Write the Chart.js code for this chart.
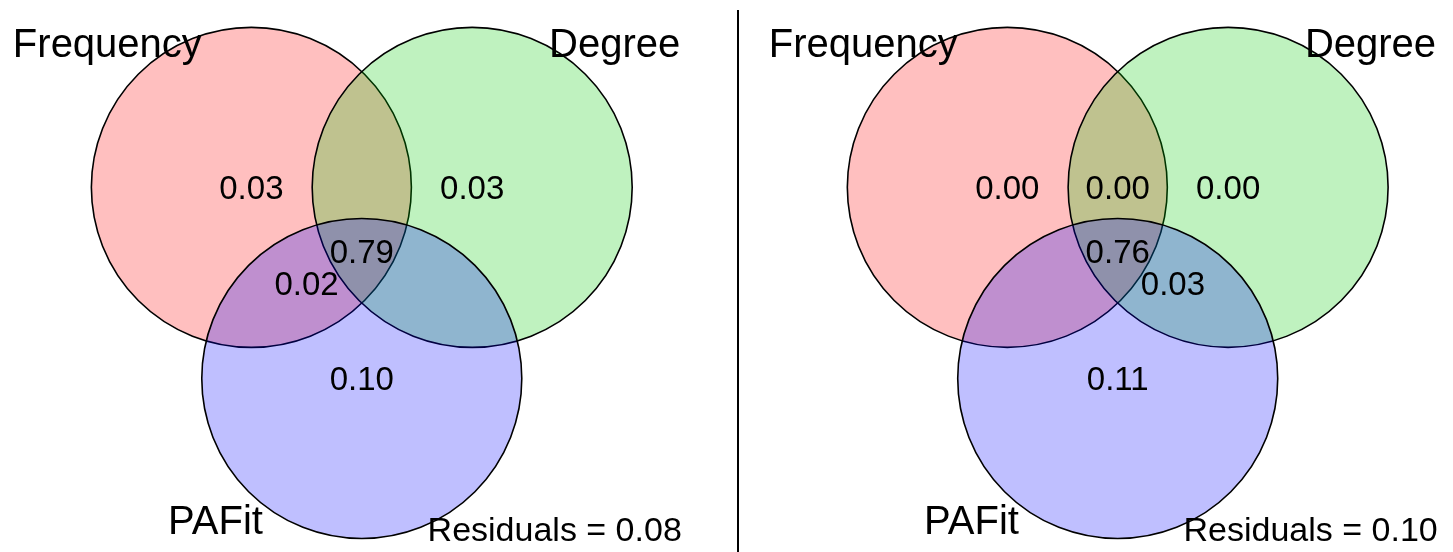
<!DOCTYPE html>
<html>
<head>
<meta charset="utf-8">
<script src="https://cdn.jsdelivr.net/npm/chart.js@4.4.1/dist/chart.umd.min.js"></script>
<style>
  body { margin: 0; background: #fff; }
  #wrap { position: relative; width: 1453px; height: 552px; }
  #leftPanel { position: absolute; left: 0; top: 0; }
  #rightPanel { position: absolute; left: 739px; top: 0; }
  #divider { position: absolute; left: 737px; top: 10px; width: 2px; height: 542px; background: #000; }
</style>
</head>
<body>
<div id="wrap">
  <canvas id="leftPanel" width="737" height="552"></canvas>
  <div id="divider"></div>
  <canvas id="rightPanel" width="714" height="552"></canvas>
</div>
<script>
// sets and their circles (diagram units, radius 1)
var setNames = ['Frequency', 'Degree', 'PAFit'];
var setColors = ['rgba(255, 0, 0, 0.25)', 'rgba(0, 203, 0, 0.25)', 'rgba(0, 0, 255, 0.25)'];
var centreX = [-0.69, 0.69, 0];
var centreY = [0.40, 0.40, -0.795];
var circleRadius = 1;

// regions: which sets each one belongs to
var regionSets = [[0], [1], [2], [0, 1], [0, 2], [1, 2], [0, 1, 2]];
// null = no label shown for that region
var leftValues = ['0.03', '0.03', '0.10', null, '0.02', null, '0.79'];
var rightValues = ['0.00', '0.00', '0.11', '0.00', null, '0.03', '0.76'];
var leftResidual = '0.08';
var rightResidual = '0.10';

// where the set names sit, relative to their circle centre
var nameOffsetX = [-0.9, 0.89, -0.914];
var nameOffsetY = [0.814, 0.814, -0.972];

var fontFamily = '"Liberation Sans", Arial, sans-serif';

function radiusPx(ctx) {
   var s = ctx.chart.scales.x;
   return s.getPixelForValue(circleRadius) - s.getPixelForValue(0);
}

var labelPlugin = {
   id: 'vennLabels',
   afterDatasetsDraw: function(chart) {
      var c = chart.ctx;
      var xs = chart.scales.x, ys = chart.scales.y;
      var vals = chart.options.plugins.vennLabels.values;
      var resid = chart.options.plugins.vennLabels.residual;
      c.save();
      c.fillStyle = '#000';
      c.textBaseline = 'alphabetic';

      // region values, at the mean of the member circle centres
      c.font = '33px ' + fontFamily;
      c.textAlign = 'center';
      for (var i = 0; i < regionSets.length; i++) {
         if (vals[i] == null) continue;
         var mx = 0, my = 0;
         regionSets[i].forEach(function(k) { mx += centreX[k]; my += centreY[k]; });
         mx /= regionSets[i].length;
         my /= regionSets[i].length;
         c.fillText(vals[i], xs.getPixelForValue(mx), ys.getPixelForValue(my) + 33 * 0.36);
      }

      // set names
      c.font = '40px ' + fontFamily;
      for (var j = 0; j < setNames.length; j++) {
         c.fillText(setNames[j],
            xs.getPixelForValue(centreX[j] + nameOffsetX[j]),
            ys.getPixelForValue(centreY[j] + nameOffsetY[j]));
      }

      // residuals
      c.font = '34px ' + fontFamily;
      c.textAlign = 'right';
      c.fillText('Residuals = ' + resid, xs.getPixelForValue(2.0), ys.getPixelForValue(-1.81));
      c.restore();
   }
};

function makePanel(id, values, residual, xMin, xMax) {
   var datasets = [];
   for (var i = 0; i < setNames.length; i++) {
      datasets.push({
         label: setNames[i],
         data: [{ x: centreX[i], y: centreY[i] }],
         backgroundColor: setColors[i],
         borderColor: '#000',
         borderWidth: 1.6,
         pointRadius: radiusPx,
         pointHoverRadius: radiusPx,
         order: setNames.length - i   // Frequency painted first, PAFit last
      });
   }
   return new Chart(document.getElementById(id), {
      type: 'scatter',
      data: { datasets: datasets },
      options: {
         responsive: false,
         devicePixelRatio: 1,
         animation: false,
         events: [],
         layout: { padding: 0 },
         scales: {
            x: { type: 'linear', min: xMin, max: xMax, display: false },
            y: { type: 'linear', min: -1.879, max: 1.571, display: false }
         },
         plugins: {
            legend: { display: false },
            tooltip: { enabled: false },
            vennLabels: { values: values, residual: residual }
         }
      },
      plugins: [labelPlugin]
   });
}

makePanel('leftPanel', leftValues, leftResidual, -2.261, 2.345);
makePanel('rightPanel', rightValues, rightResidual, -2.367, 2.0955);
</script>
</body>
</html>
